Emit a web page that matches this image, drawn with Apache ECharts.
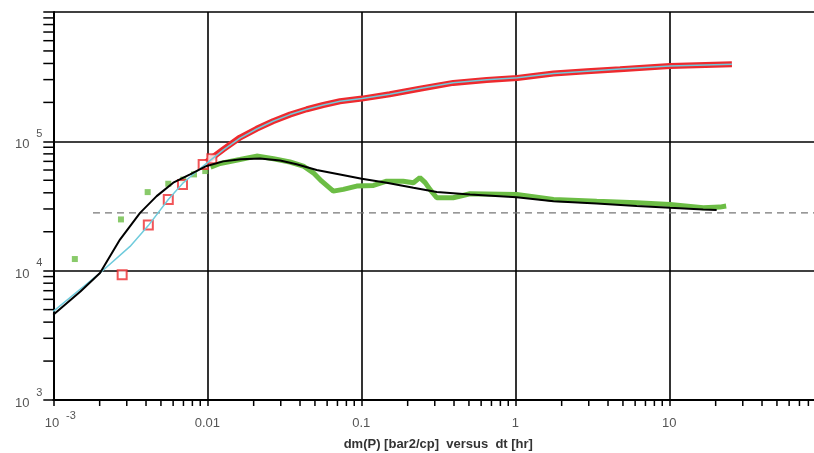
<!DOCTYPE html>
<html><head><meta charset="utf-8">
<script src="https://cdn.jsdelivr.net/npm/echarts@6/dist/echarts.min.js"></script>
<style>html,body{margin:0;padding:0;background:#fff}#c{width:814px;height:453px}</style>
</head><body><div id="c"></div>
<script>
// dt [hr] vs dm(P) [bar2/cp]
const pressureEarly = [[0.0028,9300],[0.00414,22500],[0.00558,35500],[0.0069,46400],[0.0094,66300],[0.0107,73300]];
const pressureDense = [[0.0098,68700],[0.0127,86700],[0.0163,107000],[0.0209,125000],[0.0267,143000],[0.0344,161000],[0.0443,177000],[0.0566,191000],[0.0727,204000],[0.101,214000],[0.153,231000],[0.24,255000],[0.395,283000],[0.652,298000],[1.03,309000],[1.77,334000],[2.92,348000],[4.79,361000],[10.1,382000],[25.5,394000]];
const pressureModel = [[0.001,4850],[0.00201,9600],[0.00315,15400],[0.00414,22300],[0.00558,35500],[0.00698,47800],[0.0094,64400],[0.0127,86000],[0.0163,106000],[0.0209,124500],[0.0267,143000],[0.0344,161000],[0.0443,177000],[0.0566,191000],[0.0727,204000],[0.101,214500],[0.153,231500],[0.24,256000],[0.395,284000],[0.652,299000],[1.03,310000],[1.77,335000],[2.92,349000],[4.79,362000],[10.1,383000],[25.5,395000]];
const derivEarly = [[0.00138,12300],[0.00275,24900],[0.0041,40500],[0.00558,47000],[0.00698,50600],[0.0082,55500],[0.0097,58900]];
const derivDense = [[0.0105,63000],[0.0121,67400],[0.0163,72400],[0.0209,76900],[0.0269,73400],[0.0344,69200],[0.042,64400],[0.0488,57100],[0.0553,49200],[0.0658,41200],[0.0764,42500],[0.0933,45100],[0.12,45600],[0.146,49200],[0.187,49200],[0.218,47900],[0.24,52400],[0.26,47900],[0.279,42500],[0.309,36600],[0.395,36600],[0.508,39300],[1.02,38800],[1.77,35500],[3.38,34400],[6.14,33500],[10.1,32500],[16.6,30600],[21.3,31000],[23.4,31600]];
const derivModel = [[0.001,4560],[0.0015,6900],[0.00201,9600],[0.00271,17400],[0.00366,28000],[0.00469,37700],[0.00601,47900],[0.00773,55500],[0.0099,64500],[0.0127,70000],[0.0165,72800],[0.022,73800],[0.0297,71000],[0.038,66400],[0.0513,60000],[0.0727,55500],[0.1007,51400],[0.146,47900],[0.218,43700],[0.309,40500],[0.508,38800],[1.02,37000],[1.77,34400],[3.38,33000],[6.14,31600],[10.1,30600],[16.6,29700],[20.3,29500]];
const stabilization = [[0.00181,28000],[100,28000]];
const xTickLabels = {'-3':'{p|10}  {s|-3}','-2':'{b|0.01}','-1':'{b|0.1}','0':'{b|1}','1':'{b|10}'};
const yTickLabels = {'3':'{b|10}  {s|3}','4':'{b|10}  {s|4}','5':'{b|10}  {s|5}'};

const xMinor = []; for (let e=-3;e<=1;e++) for (let k=2;k<=9;k++) xMinor.push(k*Math.pow(10,e));
const yMinor = []; for (let e=3;e<=5;e++) for (let k=2;k<=9;k++) yMinor.push(k*Math.pow(10,e));

const chart = echarts.init(document.getElementById('c'), null, {renderer:'canvas'});
const font = 'Liberation Sans, Arial, sans-serif';
const richX = {
  b:{fontSize:13,color:'#555',fontFamily:font,lineHeight:20,verticalAlign:'bottom'},
  p:{fontSize:13,color:'#555',fontFamily:font,lineHeight:20,verticalAlign:'bottom',padding:[0,0,0,14]},
  s:{fontSize:11,color:'#555',fontFamily:font,lineHeight:20,verticalAlign:'top'}
};
const richY = {
  b:{fontSize:13,color:'#555',fontFamily:font,lineHeight:20,verticalAlign:'bottom',padding:[0,0,3,0]},
  s:{fontSize:11,color:'#555',fontFamily:font,lineHeight:26,verticalAlign:'top'}
};
chart.setOption({
  animation:false,
  grid:{left:53.3,width:770,top:12,height:388,containLabel:false,outerBoundsMode:'none'},
  xAxis:{type:'log',logBase:10,min:0.001,max:100,
    axisLine:{lineStyle:{color:'#000',width:2}},
    axisTick:{inside:false,length:6,lineStyle:{color:'#000',width:1.5}},
    splitLine:{show:true,lineStyle:{color:'#000',width:1.6}},
    axisLabel:{margin:10,rich:richX,
      formatter:v=>{const e=Math.round(Math.log10(v)); return xTickLabels[e]||'';}},
    name:'dm(P) [bar2/cp]  versus  dt [hr]',nameLocation:'middle',nameGap:38,
    nameTextStyle:{fontFamily:font,fontSize:13,fontWeight:'bold',color:'#333'}
  },
  yAxis:{type:'log',logBase:10,min:1000,max:1000000,
    axisLine:{lineStyle:{color:'#000',width:2}},
    axisTick:{inside:false,length:10,lineStyle:{color:'#000',width:1.5}},
    splitLine:{show:true,lineStyle:{color:'#000',width:1.6}},
    axisLabel:{margin:11,rich:richY,
      formatter:v=>{const e=Math.round(Math.log10(v)); return yTickLabels[e]||'';}}
  },
  series:[
    {type:'custom',silent:true,clip:false,data:xMinor.map(v=>[v,1000]),
      renderItem:(p,api)=>{const c=api.coord([api.value(0),api.value(1)]);
        return {type:'line',shape:{x1:c[0],y1:c[1],x2:c[0],y2:c[1]+6},style:{stroke:'#000',lineWidth:1.5}};}},
    {type:'custom',silent:true,clip:false,data:yMinor.map(v=>[0.001,v]),
      renderItem:(p,api)=>{const c=api.coord([api.value(0),api.value(1)]);
        return {type:'line',shape:{x1:c[0]-10,y1:c[1],x2:c[0],y2:c[1]},style:{stroke:'#000',lineWidth:1.5}};}},
    {type:'line',data:stabilization,symbol:'none',lineStyle:{color:'#777',width:1.3,type:[7,5]},z:2},
    {type:'line',data:derivDense,symbol:'none',lineStyle:{color:'#6cbd45',width:5},z:3},
    {type:'scatter',data:derivEarly,symbol:'rect',symbolSize:6,itemStyle:{color:'#6cbd45'},z:3},
    {type:'line',data:pressureDense,symbol:'none',lineStyle:{color:'#ee2a2e',width:6},z:4},
    {type:'scatter',data:pressureEarly,symbol:'emptyRect',symbolSize:9,itemStyle:{color:'#ee2a2e',borderColor:'#ee2a2e',borderWidth:2},z:4},
    {type:'line',data:pressureModel,symbol:'none',lineStyle:{color:'#6fcbdc',width:1.5},z:5},
    {type:'line',data:derivModel,symbol:'none',lineStyle:{color:'#000',width:2},z:6}
  ]
});
</script></body></html>
